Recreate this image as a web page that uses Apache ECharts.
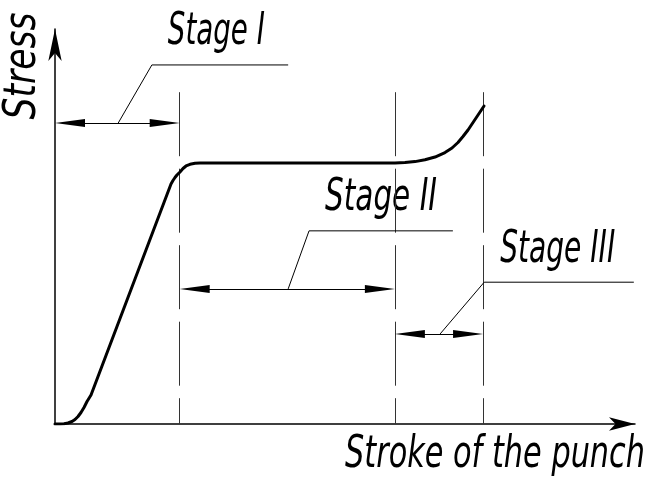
<!DOCTYPE html>
<html>
<head>
<meta charset="utf-8">
<script src="https://cdn.jsdelivr.net/npm/echarts@6/dist/echarts.min.js"></script>
<style>
  html, body { margin: 0; padding: 0; background: #fff; }
  #chart { width: 649px; height: 478px; }
</style>
</head>
<body>
<div id="chart"></div>
<script>
// curve: stroke of the punch vs stress (schematic units, 0..100 on both axes)
const strokeX = [0, 0.86, 1.55, 2.24, 2.93, 3.45, 3.97, 4.48, 5.0, 5.52, 6.21, 20.0, 20.34, 20.69, 21.03, 21.55, 22.07, 22.59, 23.28, 24.14, 25.0,
  58.62, 60.34, 62.07, 63.79, 65.52, 67.24, 68.45, 69.48, 70.34, 71.21, 71.9, 72.59, 73.28, 73.97];
const stressY = [0, 0, 0.08, 0.25, 0.63, 1.14, 1.9, 2.91, 4.18, 5.7, 7.34, 60.76, 61.65, 62.41, 63.04, 63.8, 64.68, 65.32, 65.75, 66.0, 66.08,
  66.08, 66.18, 66.43, 66.89, 67.59, 68.73, 69.87, 71.27, 72.78, 74.43, 75.95, 77.47, 78.99, 80.51];

// stage borders on the stroke axis
const stageBounds = [0, 21.5, 58.6, 73.8];
const stageNames = ['Stage I', 'Stage II', 'Stage III'];

// annotation layout (stress level of each span, leader lines)
const dimLevel = [76.2, 34.2, 22.8];
const dashTop = 84;
const leaderX = [[10.9, 16.7, 40.2], [40.2, 43.8, 68.6], [66.4, 74.0, 99.8]];
const leaderY = [90.9, 48.9, 35.9];
const stageTextW = [97, 112, 115];

const chart = echarts.init(document.getElementById('chart'));
const FS = 44;
const FONT = '"DejaVu Sans", sans-serif';
const arrowHead = 'path://M5,0 L10,30 L0,30 Z';
const ARROW_LEN = 30;

function measure(str) {
  const ctx = document.createElement('canvas').getContext('2d');
  ctx.font = 'italic 200 ' + FS + 'px ' + FONT;
  return ctx.measureText(str).width;
}

const curveData = strokeX.map((x, i) => [x, stressY[i]]);
const dashData = stageBounds.slice(1).map(b => ({ coords: [[b, dashTop], [b, 0]] }));
const leaderData = stageNames.map((n, i) => ({
  coords: [[leaderX[i][0], dimLevel[i]], [leaderX[i][1], leaderY[i]], [leaderX[i][2], leaderY[i]]],
}));

chart.setOption({
  animation: false,
  grid: { left: 55, right: 14, top: 29, bottom: 54 },
  xAxis: {
    type: 'value',
    min: 0,
    max: 100,
    axisLine: { lineStyle: { color: '#000', width: 1.5 }, symbol: ['none', 'arrow'], symbolSize: [10, 26] },
    axisTick: { show: false },
    axisLabel: { show: false },
    splitLine: { show: false },
  },
  yAxis: {
    type: 'value',
    min: 0,
    max: 100,
    axisLine: { show: true, lineStyle: { color: '#000', width: 1.5 }, symbol: ['none', 'arrow'], symbolSize: [10, 32] },
    axisTick: { show: false },
    axisLabel: { show: false },
    splitLine: { show: false },
  },
  series: [
    {
      type: 'lines',
      coordinateSystem: 'cartesian2d',
      data: dashData,
      symbol: 'none',
      lineStyle: { color: '#333', width: 1, type: [64, 12.5], opacity: 1 },
      z: 1,
    },
    {
      type: 'lines',
      coordinateSystem: 'cartesian2d',
      polyline: true,
      data: leaderData,
      symbol: 'none',
      lineStyle: { color: '#000', width: 1, opacity: 1 },
      z: 2,
    },
    {
      type: 'line',
      data: curveData,
      smooth: false,
      showSymbol: false,
      lineStyle: { color: '#000', width: 3, join: 'round', cap: 'round' },
      z: 3,
    },
  ],
});

// the arrow symbols sit centred on the line ends, so pull the ends in by half an arrow
const p0 = chart.convertToPixel({ gridIndex: 0 }, [0, 0]);
const p1 = chart.convertToPixel({ gridIndex: 0 }, [100, 0]);
const half = (ARROW_LEN / 2) * 100 / (p1[0] - p0[0]);
const dimData = stageNames.map((n, i) => ({
  coords: [[stageBounds[i] + half, dimLevel[i]], [stageBounds[i + 1] - half, dimLevel[i]]],
}));

// texts, squeezed to the narrow drafting look of the original
const texts = stageNames.map((n, i) => {
  const p = chart.convertToPixel({ gridIndex: 0 }, [leaderX[i][1], leaderY[i]]);
  return { text: n, x: p[0] + 16, y: p[1] - 32, w: stageTextW[i], align: 'left', rot: 0 };
});
texts.push({ text: 'Stress', x: 24, y: 66, w: 107, align: 'center', rot: Math.PI / 2 });
texts.push({ text: 'Stroke of the punch', x: 645, y: 456, w: 300, align: 'right', rot: 0 });

chart.setOption({
  series: [
    {},
    {},
    {},
    {
      type: 'lines',
      coordinateSystem: 'cartesian2d',
      data: dimData,
      symbol: [arrowHead, arrowHead],
      symbolSize: [[8, ARROW_LEN], [8, ARROW_LEN]],
      lineStyle: { color: '#000', width: 1.2, opacity: 1 },
      z: 2,
    },
  ],
  graphic: texts.map(t => ({
    type: 'text',
    x: t.x,
    y: t.y,
    rotation: t.rot,
    scaleX: t.w / measure(t.text),
    style: {
      text: t.text,
      fontFamily: FONT,
      fontSize: FS,
      fontStyle: 'italic',
      fontWeight: 200,
      fill: '#000',
      align: t.align,
      verticalAlign: 'middle',
    },
  })),
});
</script>
</body>
</html>
